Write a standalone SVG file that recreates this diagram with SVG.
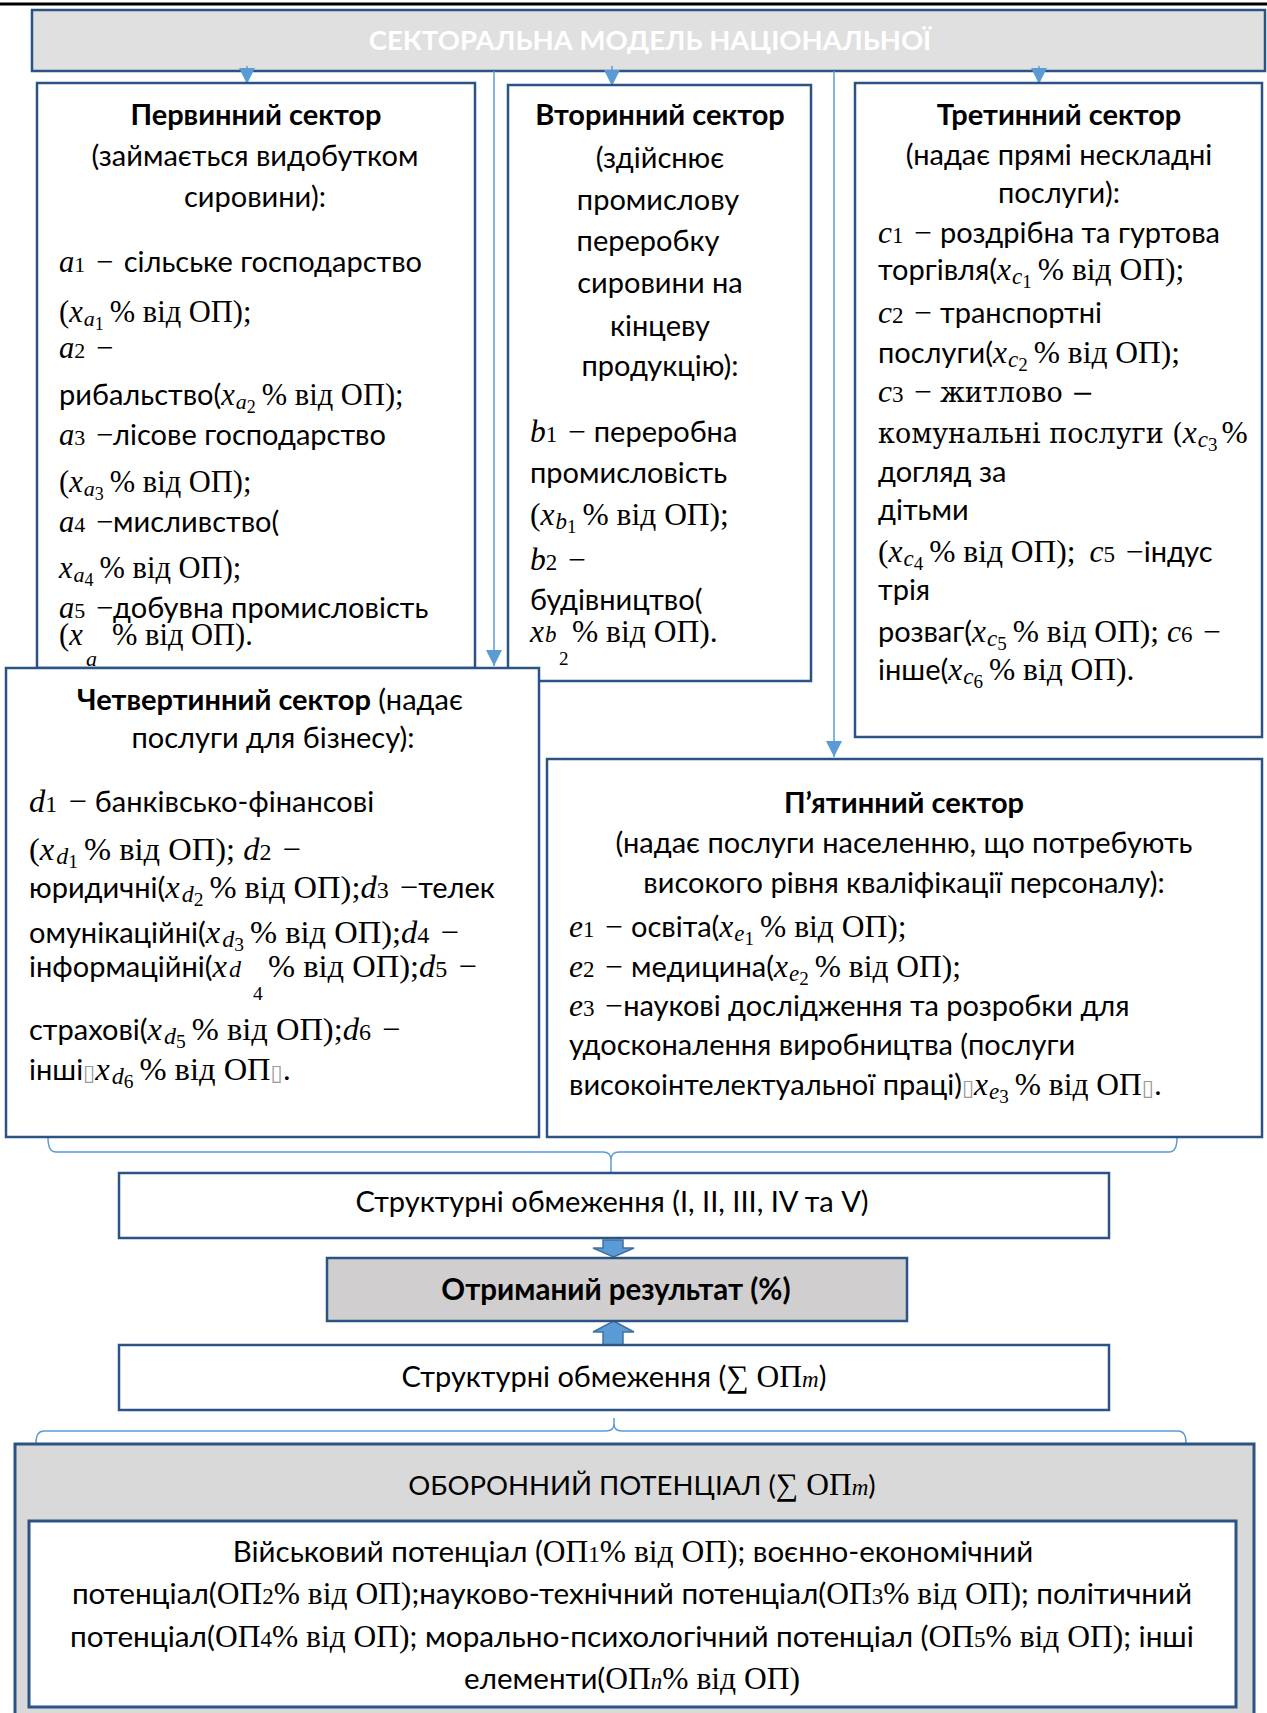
<svg xmlns="http://www.w3.org/2000/svg" width="1267" height="1713" viewBox="0 0 1267 1713">
<style>
.box{fill:#fff;stroke:#2b5384;stroke-width:2.5}
.gray{fill:#e0e0e0}
.res{fill:#d0cece}
.big{fill:#d9d9d9}
.t{font-family:Lato,'Liberation Sans',sans-serif;font-size:29px;fill:#000}
.b{font-weight:700}
.c{text-anchor:middle}
.m{font-family:'Liberation Serif','DejaVu Serif',serif;font-size:31.5px}
.dj{font-family:'DejaVu Serif','Liberation Serif',serif;font-size:27px}
.i{font-style:italic}
.m.n,.m.s1{font-size:23px}
.m.s2{font-size:19px}
#primary .m{font-size:30.5px}
#primary .m.n,#primary .m.s1{font-size:22px}
#primary .m.s2{font-size:18px}
#quaternary .m{font-size:32.5px}
#quaternary .m.n,#quaternary .m.s1{font-size:24px}
#quaternary .m.s2{font-size:19.5px}
.tofu{font-family:'DejaVu Sans',sans-serif;font-size:22px;fill:#999}
.conn{fill:none;stroke:#5b9bd5;stroke-width:1.5}
.blk{fill:#5b9bd5;stroke:#41719c;stroke-width:1.5}
</style>
<defs>
<marker id="ah" markerUnits="userSpaceOnUse" markerWidth="16" markerHeight="16" viewBox="0 0 16 16" refX="16" refY="8" orient="auto"><path d="M0,0 L16,8 L0,16 z" fill="#5b9bd5"/></marker>
</defs>

<line x1="0" y1="4" x2="1267" y2="4" stroke="#000" stroke-width="3"/>

<g id="title">
<rect class="box gray" x="32" y="10" width="1233" height="61"/>
<text class="t b c" x="650" y="50" style="fill:#fff;font-size:27.5px">СЕКТОРАЛЬНА МОДЕЛЬ НАЦІОНАЛЬНОЇ</text>
</g>

<g id="connectors">
<line class="conn" x1="247" y1="66" x2="247" y2="84" marker-end="url(#ah)"/>
<line class="conn" x1="612" y1="66" x2="612" y2="86" marker-end="url(#ah)"/>
<line class="conn" x1="1039" y1="66" x2="1039" y2="84" marker-end="url(#ah)"/>
<line class="conn" x1="494" y1="71" x2="494" y2="666" marker-end="url(#ah)"/>
<line class="conn" x1="834" y1="71" x2="834" y2="757" marker-end="url(#ah)"/>
<path class="conn" d="M48,1138 Q48,1152 56,1152 H603 Q611,1152 611,1160 V1172 M611,1160 Q611,1152 619,1152 H1169 Q1177,1152 1177,1138"/>
<path class="conn" d="M36,1443 Q36,1431 44,1431 H606 Q614,1431 614,1424 V1418 M614,1424 Q614,1431 622,1431 H1178 Q1186,1431 1186,1443"/>
<path class="blk" d="M603,1240 H623 V1248 H634 L613.5,1257 L593,1248 H603 Z"/>
<path class="blk" d="M613.5,1321 L634,1332 H623 V1345 H603 V1332 H593 Z"/>
</g>

<g id="primary">
<rect class="box" x="37" y="83" width="438" height="585"/>
<text class="t b c" x="256" y="125">Первинний сектор</text>
<text class="t c" x="255" y="166">(займається видобутком</text>
<text class="t c" x="255" y="207">сировини):</text>
<text class="t" x="59" y="272"><tspan class="m i">a</tspan><tspan class="m n">1</tspan><tspan class="m" dx="3"> − </tspan><tspan dx="3">сільське господарство</tspan></text>
<text class="t" x="59" y="322"><tspan class="m">(</tspan><tspan class="m i">x</tspan><tspan class="m i s1" dy="4" dx="1">a</tspan><tspan class="m s2" dy="4">1</tspan><tspan class="m" dy="-8" dx="6">% від ОП);</tspan></text>
<text class="t" x="59" y="358"><tspan class="m i">a</tspan><tspan class="m n">2</tspan><tspan class="m" dx="3"> −</tspan></text>
<text class="t" x="59" y="405">рибальство(<tspan class="m i">x</tspan><tspan class="m i s1" dy="4" dx="1">a</tspan><tspan class="m s2" dy="4">2</tspan><tspan class="m" dy="-8" dx="6">% від ОП);</tspan></text>
<text class="t" x="59" y="445"><tspan class="m i">a</tspan><tspan class="m n">3</tspan><tspan class="m" dx="3"> −</tspan>лісове господарство</text>
<text class="t" x="59" y="492"><tspan class="m">(</tspan><tspan class="m i">x</tspan><tspan class="m i s1" dy="4" dx="1">a</tspan><tspan class="m s2" dy="4">3</tspan><tspan class="m" dy="-8" dx="6">% від ОП);</tspan></text>
<text class="t" x="59" y="532"><tspan class="m i">a</tspan><tspan class="m n">4</tspan><tspan class="m" dx="3"> −</tspan>мисливство(</text>
<text class="t" x="59" y="578"><tspan class="m i">x</tspan><tspan class="m i s1" dy="4" dx="1">a</tspan><tspan class="m s2" dy="4">4</tspan><tspan class="m" dy="-8" dx="6">% від ОП);</tspan></text>
<text class="t" x="59" y="618"><tspan class="m i">a</tspan><tspan class="m n">5</tspan><tspan class="m" dx="3"> −</tspan>добувна промисловість</text>
<text class="t" x="59" y="645"><tspan class="m">(</tspan><tspan class="m i">x</tspan><tspan class="m" x="112">% від ОП).</tspan></text>
<text class="m i s1" x="86" y="666">a</text>
</g>

<g id="secondary">
<rect class="box" x="508" y="85" width="303" height="596"/>
<text class="t b c" x="660" y="125">Вторинний сектор</text>
<text class="t c" x="660" y="168">(здійснює</text>
<text class="t c" x="658" y="210">промислову</text>
<text class="t c" x="648" y="251">переробку</text>
<text class="t c" x="660" y="293">сировини на</text>
<text class="t c" x="660" y="336">кінцеву</text>
<text class="t c" x="660" y="376">продукцію):</text>
<text class="t" x="530" y="442"><tspan class="m i">b</tspan><tspan class="m n">1</tspan><tspan class="m" dx="3"> − </tspan>переробна</text>
<text class="t" x="530" y="483">промисловість</text>
<text class="t" x="530" y="525"><tspan class="m">(</tspan><tspan class="m i">x</tspan><tspan class="m i s1" dy="4" dx="1">b</tspan><tspan class="m s2" dy="4">1</tspan><tspan class="m" dy="-8" dx="6">% від ОП);</tspan></text>
<text class="t" x="530" y="570"><tspan class="m i">b</tspan><tspan class="m n">2</tspan><tspan class="m" dx="3"> −</tspan></text>
<text class="t" x="530" y="610">будівництво(</text>
<text class="t" x="530" y="642"><tspan class="m i">x</tspan><tspan class="m i s1" dx="1">b</tspan><tspan class="m" x="572">% від ОП).</tspan></text>
<text class="m s2" x="559" y="665">2</text>
</g>

<g id="tertiary">
<rect class="box" x="855" y="83" width="407" height="654"/>
<text class="t b c" x="1059" y="125">Третинний сектор</text>
<text class="t c" x="1059" y="165">(надає прямі нескладні</text>
<text class="t c" x="1059" y="203">послуги):</text>
<text class="t" x="878" y="243"><tspan class="m i">c</tspan><tspan class="m n">1</tspan><tspan class="m" dx="3"> − </tspan>роздрібна та гуртова</text>
<text class="t" x="878" y="280">торгівля(<tspan class="m i">x</tspan><tspan class="m i s1" dy="4" dx="1">c</tspan><tspan class="m s2" dy="4">1</tspan><tspan class="m" dy="-8" dx="6">% від ОП);</tspan></text>
<text class="t" x="878" y="323"><tspan class="m i">c</tspan><tspan class="m n">2</tspan><tspan class="m" dx="3"> − </tspan>транспортні</text>
<text class="t" x="878" y="363">послуги(<tspan class="m i">x</tspan><tspan class="m i s1" dy="4" dx="1">c</tspan><tspan class="m s2" dy="4">2</tspan><tspan class="m" dy="-8" dx="6">% від ОП);</tspan></text>
<text class="t" x="878" y="402"><tspan class="m i">c</tspan><tspan class="m n">3</tspan><tspan class="m" dx="3"> − </tspan><tspan class="dj">житлово −</tspan></text>
<text class="t" x="878" y="443"><tspan class="dj">комунальні послуги (</tspan><tspan class="m i">x</tspan><tspan class="m i s1" dy="4" dx="1">c</tspan><tspan class="m s2" dy="4">3</tspan><tspan class="m" dy="-8" dx="4">%</tspan></text>
<text class="t" x="878" y="482">догляд за</text>
<text class="t" x="878" y="520">дітьми</text>
<text class="t" x="878" y="562"><tspan class="m">(</tspan><tspan class="m i">x</tspan><tspan class="m i s1" dy="4" dx="1">c</tspan><tspan class="m s2" dy="4">4</tspan><tspan class="m" dy="-8" dx="6">% від ОП);</tspan><tspan class="m i" dx="14">c</tspan><tspan class="m n">5</tspan><tspan class="m" dx="3"> −</tspan>індус</text>
<text class="t" x="878" y="600">трія</text>
<text class="t" x="878" y="642">розваг(<tspan class="m i">x</tspan><tspan class="m i s1" dy="4" dx="1">c</tspan><tspan class="m s2" dy="4">5</tspan><tspan class="m" dy="-8" dx="6">% від ОП); </tspan><tspan class="m i">c</tspan><tspan class="m n">6</tspan><tspan class="m" dx="3"> −</tspan></text>
<text class="t" x="878" y="680">інше(<tspan class="m i">x</tspan><tspan class="m i s1" dy="4" dx="1">c</tspan><tspan class="m s2" dy="4">6</tspan><tspan class="m" dy="-8" dx="6">% від ОП).</tspan></text>
</g>

<g id="quaternary">
<rect class="box" x="6" y="668" width="533" height="469"/>
<text class="t c" x="270" y="710"><tspan class="b">Четвертинний сектор</tspan> (надає</text>
<text class="t c" x="273" y="748">послуги для бізнесу):</text>
<text class="t" x="29" y="812"><tspan class="m i">d</tspan><tspan class="m n">1</tspan><tspan class="m" dx="3"> − </tspan>банківсько-фінансові</text>
<text class="t" x="29" y="860"><tspan class="m">(</tspan><tspan class="m i">x</tspan><tspan class="m i s1" dy="4" dx="2">d</tspan><tspan class="m s2" dy="4">1</tspan><tspan class="m" dy="-8" dx="6">% від ОП); </tspan><tspan class="m i">d</tspan><tspan class="m n">2</tspan><tspan class="m" dx="3"> −</tspan></text>
<text class="t" x="29" y="898">юридичні(<tspan class="m i">x</tspan><tspan class="m i s1" dy="4" dx="2">d</tspan><tspan class="m s2" dy="4">2</tspan><tspan class="m" dy="-8" dx="6">% від ОП);</tspan><tspan class="m i">d</tspan><tspan class="m n">3</tspan><tspan class="m" dx="3"> −</tspan>телек</text>
<text class="t" x="29" y="943">омунікаційні(<tspan class="m i">x</tspan><tspan class="m i s1" dy="4" dx="2">d</tspan><tspan class="m s2" dy="4">3</tspan><tspan class="m" dy="-8" dx="6">% від ОП);</tspan><tspan class="m i">d</tspan><tspan class="m n">4</tspan><tspan class="m" dx="3"> −</tspan></text>
<text class="t" x="29" y="977">інформаційні(<tspan class="m i">x</tspan><tspan class="m i s1" dx="2">d</tspan><tspan class="m" x="268">% від ОП);</tspan><tspan class="m i">d</tspan><tspan class="m n">5</tspan><tspan class="m" dx="3"> −</tspan></text>
<text class="m s2" x="253" y="1000">4</text>
<text class="t" x="29" y="1040">страхові(<tspan class="m i">x</tspan><tspan class="m i s1" dy="4" dx="2">d</tspan><tspan class="m s2" dy="4">5</tspan><tspan class="m" dy="-8" dx="6">% від ОП);</tspan><tspan class="m i">d</tspan><tspan class="m n">6</tspan><tspan class="m" dx="3"> −</tspan></text>
<text class="t" x="29" y="1080">інші<tspan class="tofu">▯</tspan><tspan class="m i">x</tspan><tspan class="m i s1" dy="4" dx="2">d</tspan><tspan class="m s2" dy="4">6</tspan><tspan class="m" dy="-8" dx="6">% від ОП</tspan><tspan class="tofu">▯</tspan><tspan class="m">.</tspan></text>
</g>

<g id="quinary">
<rect class="box" x="547" y="759" width="715" height="378"/>
<text class="t b c" x="904" y="813">П’ятинний сектор</text>
<text class="t c" x="904" y="853">(надає послуги населенню, що потребують</text>
<text class="t c" x="904" y="893">високого рівня кваліфікації персоналу):</text>
<text class="t" x="569" y="937"><tspan class="m i">e</tspan><tspan class="m n">1</tspan><tspan class="m" dx="3"> − </tspan>освіта(<tspan class="m i">x</tspan><tspan class="m i s1" dy="4" dx="1">e</tspan><tspan class="m s2" dy="4">1</tspan><tspan class="m" dy="-8" dx="6">% від ОП);</tspan></text>
<text class="t" x="569" y="977"><tspan class="m i">e</tspan><tspan class="m n">2</tspan><tspan class="m" dx="3"> − </tspan>медицина(<tspan class="m i">x</tspan><tspan class="m i s1" dy="4" dx="1">e</tspan><tspan class="m s2" dy="4">2</tspan><tspan class="m" dy="-8" dx="6">% від ОП);</tspan></text>
<text class="t" x="569" y="1016"><tspan class="m i">e</tspan><tspan class="m n">3</tspan><tspan class="m" dx="3"> −</tspan>наукові дослідження та розробки для</text>
<text class="t" x="569" y="1055">удосконалення виробництва (послуги</text>
<text class="t" x="569" y="1095">високоінтелектуальної праці)<tspan class="tofu">▯</tspan><tspan class="m i">x</tspan><tspan class="m i s1" dy="4" dx="1">e</tspan><tspan class="m s2" dy="4">3</tspan><tspan class="m" dy="-8" dx="6">% від ОП</tspan><tspan class="tofu">▯</tspan><tspan class="m">.</tspan></text>
</g>

<g id="constraints1">
<rect class="box" x="119" y="1173" width="990" height="65"/>
<text class="t c" x="612" y="1212">Структурні обмеження (I, II, III, IV та V)</text>
</g>

<g id="result">
<rect class="box res" x="327" y="1258" width="580" height="63"/>
<text class="t b c" x="616" y="1300" style="font-size:29.5px">Отриманий результат (%)</text>
</g>

<g id="constraints2">
<rect class="box" x="119" y="1345" width="990" height="65"/>
<text class="t c" x="614" y="1387">Структурні обмеження (<tspan class="m">∑ ОП</tspan><tspan class="m i s1">m</tspan>)</text>
</g>

<g id="defense">
<rect class="box big" x="15" y="1444" width="1239" height="280" style="stroke-width:3"/>
<text class="t c" x="642" y="1495" style="font-size:27.5px">ОБОРОННИЙ ПОТЕНЦІАЛ (<tspan class="m">∑ ОП</tspan><tspan class="m i s1">m</tspan>)</text>
<rect class="box" x="29" y="1521" width="1207" height="186" style="stroke-width:3"/>
<text class="t c" x="633" y="1562" style="font-size:29.5px">Військовий потенціал (<tspan class="m">ОП</tspan><tspan class="m n">1</tspan><tspan class="m">% від ОП)</tspan>; воєнно-економічний</text>
<text class="t c" x="632" y="1604" style="font-size:29.7px">потенціал(<tspan class="m">ОП</tspan><tspan class="m n">2</tspan><tspan class="m">% від ОП)</tspan>;науково-технічний потенціал(<tspan class="m">ОП</tspan><tspan class="m n">3</tspan><tspan class="m">% від ОП)</tspan>; політичний</text>
<text class="t c" x="632" y="1647" style="font-size:29.7px">потенціал(<tspan class="m">ОП</tspan><tspan class="m n">4</tspan><tspan class="m">% від ОП)</tspan>; морально-психологічний потенціал (<tspan class="m">ОП</tspan><tspan class="m n">5</tspan><tspan class="m">% від ОП)</tspan>; інші</text>
<text class="t c" x="632" y="1689" style="font-size:29.5px">елементи(<tspan class="m">ОП</tspan><tspan class="m i n">n</tspan><tspan class="m">% від ОП)</tspan></text>
</g>
</svg>
